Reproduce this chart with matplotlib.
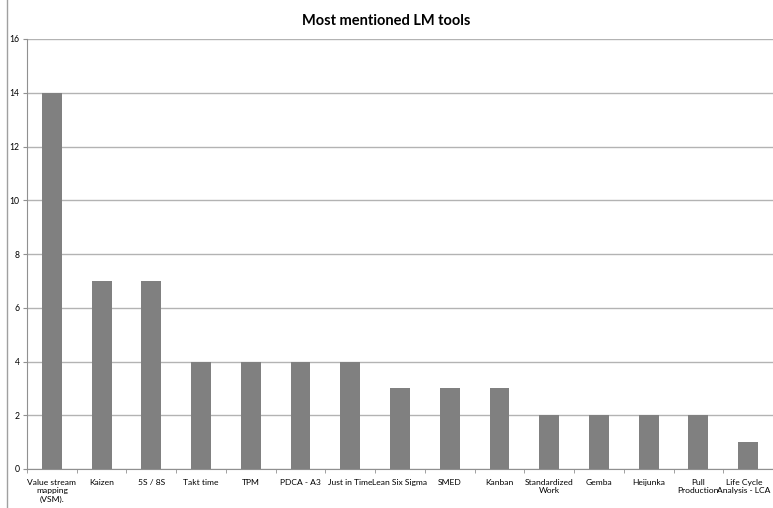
import matplotlib
matplotlib.use("Agg")
import matplotlib.pyplot as plt
import matplotlib.transforms as mtransforms
import numpy as np
from matplotlib.lines import Line2D

categories = ["Value stream\nmapping\n(VSM).", "Kaizen", "5S / 8S", "Takt time", "TPM",
              "PDCA - A3", "Just in Time", "Lean Six Sigma", "SMED", "Kanban",
              "Standardized\nWork", "Gemba", "Heijunka", "Pull\nProduction",
              "Life Cycle\nAnalysis - LCA"]
values = [14, 7, 7, 4, 4, 4, 4, 3, 3, 3, 2, 2, 2, 2, 1]
yticks = [0, 2, 4, 6, 8, 10, 12, 14, 16]

plt.rcParams['font.family'] = ['Lato', 'DejaVu Sans']

fig = plt.figure(figsize=(7.73, 5.08), dpi=100)
ax = fig.add_axes([27/773, 1-469/508, 1-27/773, (469-39)/508])

x = np.arange(len(categories))
ax.bar(x, values, width=0.4, color="#808080", zorder=3)
ax.set_xlim(-0.5, len(categories)-0.5)
ax.set_ylim(0, 16)
ax.set_yticks(yticks)
ax.set_yticklabels([str(v) for v in yticks], fontsize=6.2)
ax.yaxis.grid(True, color="#b3b3b3", linewidth=1.0, zorder=0)
ax.set_xticks(x)
ax.set_xticklabels(categories, fontsize=6.1, linespacing=1.25)
ax.tick_params(axis='x', which='major', length=0, pad=7)
ax.set_xticks(np.arange(-0.5, len(categories)+0.5, 1), minor=True)
ax.tick_params(axis='x', which='minor', length=3, color="#909090")
ax.tick_params(axis='y', length=3, color="#909090", pad=2.5)
for s in ['top', 'right']:
    ax.spines[s].set_visible(False)
ax.spines['left'].set_color("#909090")
ax.spines['bottom'].set_color("#909090")

# nudge the last label so it stays inside the canvas
last = ax.get_xticklabels()[-1]
last.set_transform(last.get_transform() +
                   mtransforms.ScaledTranslation(-4/100, 0, fig.dpi_scale_trans))

fig.text(0.5, 1-21/508, "Most mentioned LM tools", ha='center', va='center',
         fontsize=10.5, fontweight='bold')
fig.add_artist(Line2D([7/773, 7/773], [0, 1], color="#a0a0a0", linewidth=1.0,
                      transform=fig.transFigure))

fig.savefig("out.png", dpi=100)
